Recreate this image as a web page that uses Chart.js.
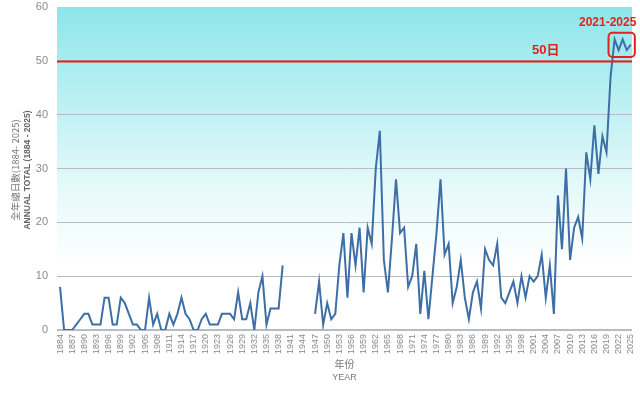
<!DOCTYPE html>
<html>
<head>
<meta charset="utf-8">
<script src="https://cdn.jsdelivr.net/npm/chart.js@4.4.1/dist/chart.umd.min.js"></script>
<style>
  html, body { margin: 0; padding: 0; background: #fff; }
  .c-1 { width: 640px; height: 397px; position: relative; }
</style>
</head>
<body>
<div class="c-1"><canvas id="myChart"></canvas></div>
<script>
// annual totals
const firstYear = 1884;
const lastYear = 2025;
const days1884to1939 = [
  8, 0, 0, 0, 1, 2, 3, 3, 1, 1,
  1, 6, 6, 1, 1, 6, 5, 3, 1, 1,
  0, 0, 6, 1, 3, 0, 0, 3, 1, 3,
  6, 3, 2, 0, 0, 2, 3, 1, 1, 1,
  3, 3, 3, 2, 7, 2, 2, 5, 0, 7,
  10, 1, 4, 4, 4, 12
];
// 1940 - 1946 : no record
const days1940to1946 = [null, null, null, null, null, null, null];
const days1947to2025 = [
  3, 9, 1, 5, 2, 3, 12, 18, 6, 18,
  12, 19, 7, 19, 16, 30, 37, 13, 7, 17,
  28, 18, 19, 8, 10, 16, 3, 11, 2, 10,
  18, 28, 14, 16, 5, 8, 13, 6, 2, 7,
  9, 4, 15, 13, 12, 16, 6, 5, 7, 9,
  5, 10, 6, 10, 9, 10, 14, 6, 12, 3,
  25, 15, 30, 13, 19, 21, 17, 33, 28, 38,
  29, 36, 33, 47, 54, 52, 54, 52, 53
];
const threshold = 50;
const thresholdLabel = "50日";
const recentFrom = 2021;
const recentLabel = "2021-2025";
const yTicks = [0, 10, 20, 30, 40, 50, 60];

const years = [];
for (let y = firstYear; y <= lastYear; y++) years.push(y);
const allDays = days1884to1939.concat(days1940to1946, days1947to2025);
const points = years.map((y, i) => ({ x: y, y: allDays[i] }));

const red = "#e3231b";

const bgPlugin = {
  id: "bg",
  beforeDraw(chart) {
    const { ctx, chartArea: a } = chart;
    const g = ctx.createLinearGradient(0, a.top, 0, a.bottom);
    g.addColorStop(0, "#8ee5ea");
    g.addColorStop(0.25, "#b5eff2");
    g.addColorStop(0.55, "#e4f9fa");
    g.addColorStop(0.8, "#ffffff");
    g.addColorStop(1, "#ffffff");
    ctx.save();
    ctx.fillStyle = g;
    ctx.fillRect(a.left, a.top, a.right - a.left, a.bottom - a.top);
    ctx.restore();
  }
};

const marksPlugin = {
  id: "marks",
  afterDatasetsDraw(chart) {
    const { ctx, chartArea: a, scales } = chart;
    const xs = scales.x, ys = scales.y;
    ctx.save();
    // 50 day line
    const ty = Math.round(ys.getPixelForValue(threshold)) + 0.5;
    ctx.strokeStyle = red;
    ctx.lineWidth = 2;
    ctx.beginPath();
    ctx.moveTo(a.left, ty);
    ctx.lineTo(a.right, ty);
    ctx.stroke();

    ctx.fillStyle = red;
    ctx.font = "bold 13px 'Liberation Sans', 'Noto Sans CJK TC'";
    ctx.textAlign = "center";
    ctx.textBaseline = "middle";
    ctx.fillText(thresholdLabel, xs.getPixelForValue(2004), ys.getPixelForValue(52));

    // box round the last years
    const recent = points.filter(p => p.x >= recentFrom).map(p => p.y);
    const x1 = xs.getPixelForValue(recentFrom - 1.5);
    const x2 = xs.getPixelForValue(lastYear + 1);
    const y1 = ys.getPixelForValue(Math.max(...recent) + 1.2);
    const y2 = ys.getPixelForValue(Math.min(...recent) - 1.3);
    ctx.lineWidth = 2;
    ctx.beginPath();
    ctx.roundRect(x1, y1, x2 - x1, y2 - y1, 4);
    ctx.stroke();

    ctx.font = "bold 12px 'Liberation Sans'";
    ctx.textAlign = "left";
    ctx.fillText(recentLabel, xs.getPixelForValue(2012.2), ys.getPixelForValue(57));

    // axis titles
    ctx.fillStyle = "#777";
    ctx.textAlign = "center";
    ctx.font = "10px 'Noto Sans CJK TC'";
    ctx.fillText("年份", (a.left + a.right) / 2, 364);
    ctx.font = "9px 'Liberation Sans'";
    ctx.fillText("YEAR", (a.left + a.right) / 2, 378);

    ctx.translate(15, 170);
    ctx.rotate(-Math.PI / 2);
    ctx.font = "9.5px 'Noto Sans CJK TC'";
    ctx.fillText("全年總日數(1884- 2025)", 0, 0);
    ctx.fillStyle = "#666";
    ctx.font = "bold 8.5px 'Liberation Sans'";
    ctx.fillText("ANNUAL TOTAL (1884 - 2025)", 0, 13);
    ctx.restore();
  }
};

const ctx = document.getElementById("myChart").getContext("2d");
new Chart(ctx, {
  type: "line",
  data: {
    datasets: [{
      label: "annual total",
      data: points,
      borderColor: "#3d6ea6",
      borderWidth: 2,
      pointRadius: 0,
      tension: 0,
      spanGaps: false
    }]
  },
  options: {
    responsive: true,
    maintainAspectRatio: false,
    animation: false,
    layout: { padding: { top: 7, right: 8, left: 0, bottom: 0 } },
    plugins: { legend: { display: false }, tooltip: { enabled: false } },
    scales: {
      x: {
        type: "linear",
        min: firstYear - 0.75,
        max: lastYear + 0.3,
        afterBuildTicks(scale) {
          scale.ticks = years.filter((y, i) => i % 3 === 0).map(v => ({ value: v }));
        },
        afterFit(scale) {
          scale.height = 67;
          scale.paddingLeft = 0;
          scale.paddingRight = 0;
        },
        grid: { display: false, drawTicks: false },
        border: { display: false },
        ticks: {
          autoSkip: false,
          minRotation: 90,
          maxRotation: 90,
          padding: 4,
          color: "#8a8a8a",
          font: { family: "'Liberation Sans'", size: 9 },
          callback: v => String(v)
        }
      },
      y: {
        min: 0,
        max: 60,
        afterBuildTicks(scale) {
          scale.ticks = yTicks.map(v => ({ value: v }));
        },
        afterFit(scale) {
          scale.width = 57;
          scale.paddingTop = 0;
          scale.paddingBottom = 0;
        },
        grid: {
          color: ctx => ctx.tick.value === 60 ? "rgba(0,0,0,0)" : "#b5bcc4",
          lineWidth: ctx => ctx.tick.value === 0 ? 2 : 1,
          drawTicks: false
        },
        border: { display: false },
        ticks: {
          padding: 9,
          color: "#8a8a8a",
          font: { family: "'Liberation Sans'", size: 11 }
        }
      }
    }
  },
  plugins: [bgPlugin, marksPlugin]
});
</script>
</body>
</html>
